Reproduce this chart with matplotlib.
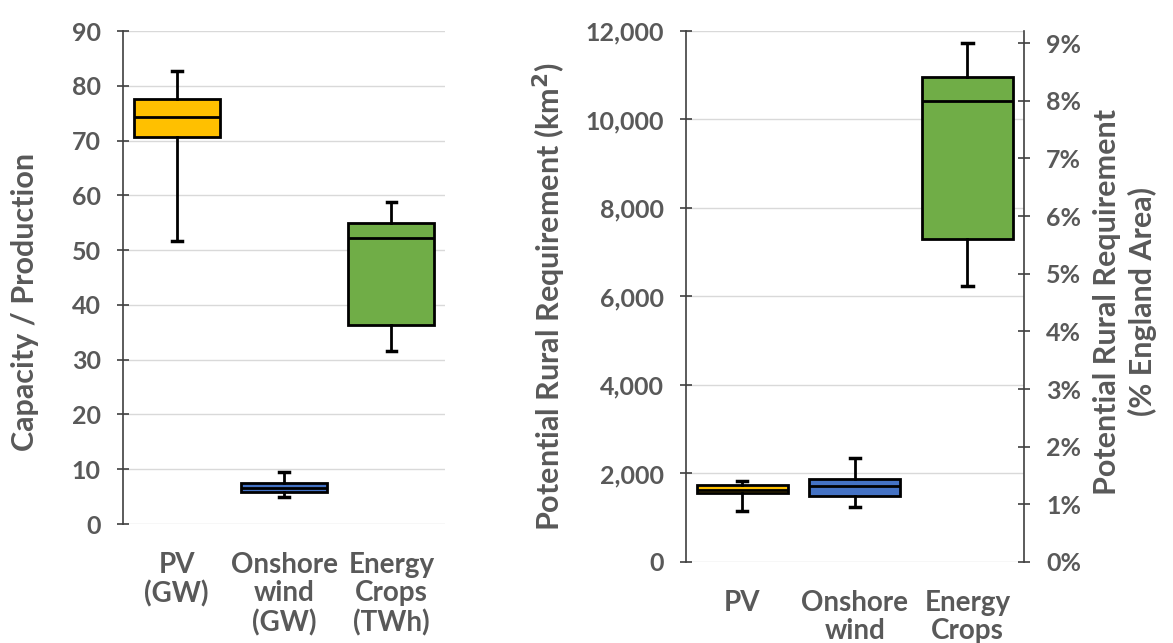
import matplotlib.pyplot as plt
from matplotlib.ticker import FuncFormatter, MultipleLocator

plt.rcParams['font.family'] = ['Lato', 'DejaVu Sans']
plt.rcParams['font.weight'] = 'bold'

GREY = '#595959'
GRID = '#D9D9D9'

# left panel: capacity / production
left_labels = ['PV\n(GW)', 'Onshore\nwind\n(GW)', 'Energy\nCrops\n(TWh)']
left_whislo = [51.6, 4.9, 31.6]
left_q1 = [70.6, 5.8, 36.3]
left_med = [74.3, 6.6, 52.2]
left_q3 = [77.6, 7.5, 54.9]
left_whishi = [82.7, 9.5, 58.8]

# right panel: rural land requirement (km2)
right_labels = ['PV', 'Onshore\nwind', 'Energy\nCrops']
right_whislo = [1150, 1240, 6240]
right_q1 = [1560, 1490, 7300]
right_med = [1627, 1720, 10420]
right_q3 = [1740, 1875, 10960]
right_whishi = [1830, 2350, 11730]

ENGLAND_AREA_KM2 = 130279

colors = ['#FFC000', '#4472C4', '#70AD47']


def make_stats(lo, q1, med, q3, hi):
    return [dict(whislo=a, q1=b, med=c, q3=d, whishi=e, fliers=[])
            for a, b, c, d, e in zip(lo, q1, med, q3, hi)]


def draw_boxes(ax, stats, width):
    bp = ax.bxp(stats, positions=[0.5, 1.5, 2.5], widths=width, patch_artist=True,
                showfliers=False,
                boxprops=dict(edgecolor='black', linewidth=2.0),
                medianprops=dict(color='black', linewidth=2.0),
                whiskerprops=dict(color='black', linewidth=2.0),
                capprops=dict(color='black', linewidth=2.5),
                capwidths=0.09)
    for patch, c in zip(bp['boxes'], colors):
        patch.set_facecolor(c)
    for w in bp['whiskers'] + bp['caps'] + bp['medians']:
        w.set_zorder(3)
    return bp


def style_axis(ax):
    ax.set_xlim(0, 3)
    ax.grid(axis='y', color=GRID, linewidth=1)
    ax.set_axisbelow(True)
    for s in ['top', 'right', 'bottom']:
        ax.spines[s].set_visible(False)
    ax.spines['left'].set_color('#404040')
    ax.spines['left'].set_linewidth(1.2)
    ax.tick_params(axis='y', direction='inout', length=8, width=1.2, color='#404040',
                   labelsize=18, labelcolor=GREY, pad=12)
    ax.tick_params(axis='x', length=0, labelsize=20, labelcolor=GREY, pad=20)


fig = plt.figure(figsize=(11.73, 6.43), dpi=100)

ax1 = fig.add_axes([0.1049, 0.185, 0.2745, 0.7667])
draw_boxes(ax1, make_stats(left_whislo, left_q1, left_med, left_q3, left_whishi), 0.8)
style_axis(ax1)
ax1.set_ylim(0, 90)
ax1.yaxis.set_major_locator(MultipleLocator(10))
ax1.set_xticks([0.5, 1.5, 2.5])
ax1.set_xticklabels(left_labels, linespacing=1.12, va='top')
ax1.set_ylabel('Capacity / Production', fontsize=22, fontweight='bold', color=GREY)
ax1.yaxis.set_label_coords(-0.26, 0.45)

ax2 = fig.add_axes([0.5848, 0.126, 0.288, 0.8258])
draw_boxes(ax2, make_stats(right_whislo, right_q1, right_med, right_q3, right_whishi), 0.81)
style_axis(ax2)
ax2.set_ylim(0, 12000)
ax2.yaxis.set_major_locator(MultipleLocator(2000))
ax2.yaxis.set_major_formatter(FuncFormatter(lambda v, p: f'{int(v):,}'))
ax2.set_xticks([0.5, 1.5, 2.5])
ax2.set_xticklabels(right_labels, linespacing=1.12, va='top')
ax2.set_ylabel('Potential Rural Requirement (km$^\\mathbf{2}$)', fontsize=22,
               fontweight='bold', color=GREY)
ax2.yaxis.set_label_coords(-0.35, 0.5)

ax3 = ax2.twinx()
ax3.set_ylim(0, 12000 / ENGLAND_AREA_KM2 * 100)
ax3.yaxis.set_major_locator(MultipleLocator(1))
ax3.yaxis.set_major_formatter(FuncFormatter(lambda v, p: f'{int(round(v))}%'))
for s in ['top', 'left', 'bottom']:
    ax3.spines[s].set_visible(False)
ax3.spines['right'].set_color('#404040')
ax3.spines['right'].set_linewidth(1.2)
ax3.tick_params(axis='y', direction='inout', length=8, width=1.2, color='#404040',
                labelsize=18, labelcolor=GREY, pad=12)
ax3.set_ylabel('Potential Rural Requirement\n(% England Area)', fontsize=22,
               fontweight='bold', color=GREY, rotation=90, linespacing=1.3)
ax3.yaxis.set_label_coords(1.205, 0.49)

fig.savefig('out.png', dpi=100)
